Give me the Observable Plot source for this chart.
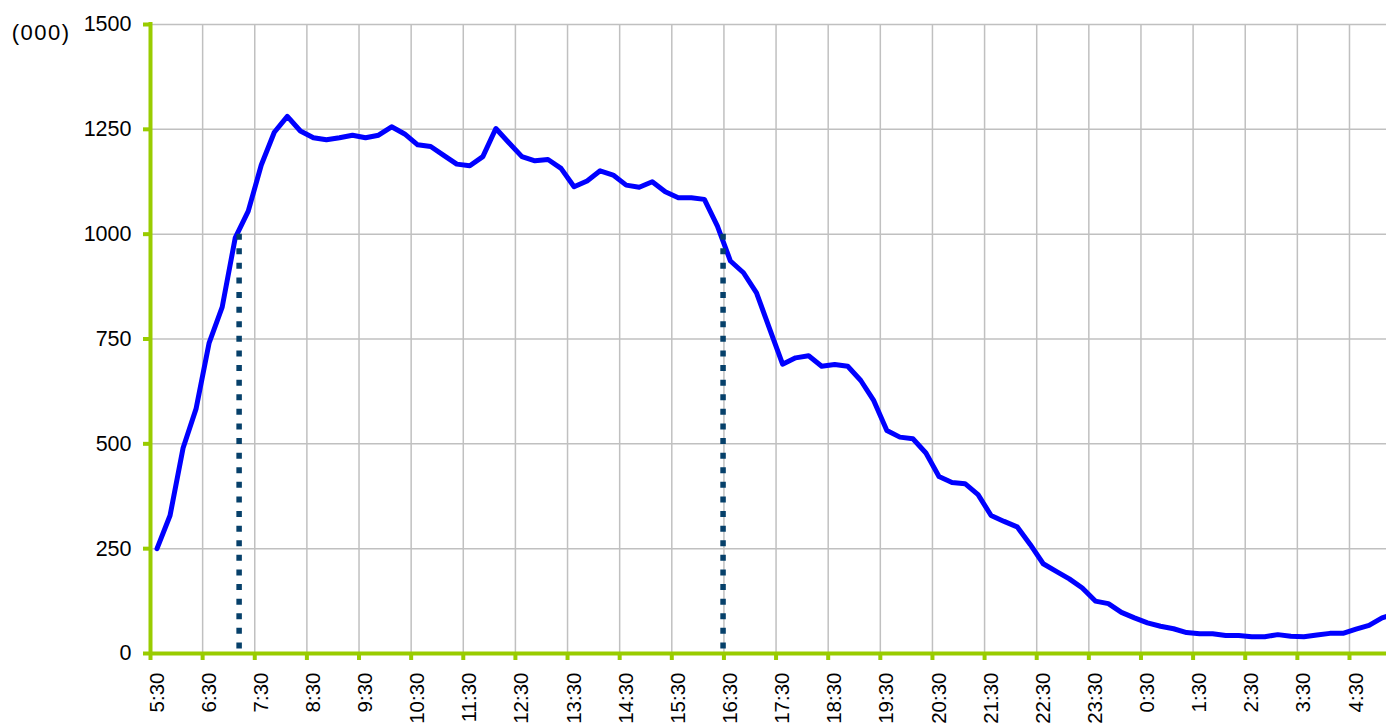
<!DOCTYPE html>
<html>
<head>
<meta charset="utf-8">
<script src="https://cdn.jsdelivr.net/npm/d3@7"></script>
<script src="https://cdn.jsdelivr.net/npm/@observablehq/plot@0.6"></script>
<style>
  html, body { margin: 0; padding: 0; background: #fff; }
  #chart svg { display: block; }
</style>
</head>
<body>
<div id="chart"></div>
<script>
// 15-minute slots (start of each interval), from 5:30 to 5:15 the next day
const slots = [
  "5:30","5:45","6:00","6:15","6:30","6:45","7:00","7:15","7:30","7:45","8:00","8:15",
  "8:30","8:45","9:00","9:15","9:30","9:45","10:00","10:15","10:30","10:45","11:00","11:15",
  "11:30","11:45","12:00","12:15","12:30","12:45","13:00","13:15","13:30","13:45","14:00","14:15",
  "14:30","14:45","15:00","15:15","15:30","15:45","16:00","16:15","16:30","16:45","17:00","17:15",
  "17:30","17:45","18:00","18:15","18:30","18:45","19:00","19:15","19:30","19:45","20:00","20:15",
  "20:30","20:45","21:00","21:15","21:30","21:45","22:00","22:15","22:30","22:45","23:00","23:15",
  "23:30","23:45","0:00","0:15","0:30","0:45","1:00","1:15","1:30","1:45","2:00","2:15",
  "2:30","2:45","3:00","3:15","3:30","3:45","4:00","4:15","4:30","4:45","5:00","5:15"
];

// values in thousands
const values = [
  250, 329, 490, 584, 741, 826, 991, 1055, 1165, 1243, 1281, 1246,
  1230, 1225, 1230, 1236, 1230, 1236, 1256, 1239, 1213, 1209, 1188, 1167,
  1163, 1185, 1252, 1218, 1185, 1175, 1178, 1157, 1113, 1127, 1151, 1141,
  1117, 1112, 1125, 1101, 1087, 1087, 1083, 1019, 936, 908, 860, 775,
  690, 705, 710, 685, 689, 685, 651, 603, 532, 516, 512, 478,
  422, 408, 405, 379, 329, 315, 302, 260, 214, 196, 178, 156,
  125, 119, 98, 85, 73, 65, 59, 50, 47, 47, 43, 43,
  40, 40, 45, 41, 40, 44, 48, 48, 58, 67, 85, 95
];

const xTickLabels = [
  "5:30","6:30","7:30","8:30","9:30","10:30","11:30","12:30","13:30","14:30","15:30","16:30",
  "17:30","18:30","19:30","20:30","21:30","22:30","23:30","0:30","1:30","2:30","3:30","4:30"
];
const yTicks = [0, 250, 500, 750, 1000, 1250, 1500];
const markerTimes = ["7:12", "16:29"];
const markerLevel = 1000;
const yUnitLabel = "(000)";

const dayStart = 330; // 5:30 in minutes
const toMin = s => {
  const [h, m] = s.split(":").map(Number);
  let t = h * 60 + m;
  if (t < dayStart) t += 1440;
  return t;
};

const data = slots.map((s, i) => ({ t: toMin(s) + 7.5, v: values[i] }));
const xTicks = xTickLabels.map(toMin);
const markers = markerTimes.map(toMin);

const green = "#99CC00";
const font = "'Liberation Sans', Arial, Helvetica, sans-serif";

const chart = Plot.plot({
  width: 1386,
  height: 726,
  marginLeft: 150,
  marginRight: 0,
  marginTop: 24,
  marginBottom: 73,
  style: { fontFamily: font, fontSize: "21px", background: "#fff", color: "#000", overflow: "visible" },
  x: { type: "linear", domain: [dayStart, dayStart + 1422.6], axis: null },
  y: { domain: [0, 1500], axis: null },
  marks: [
    Plot.gridX(xTicks.slice(1), { stroke: "#c0c0c0", strokeOpacity: 1, strokeWidth: 1.5 }),
    Plot.gridY(yTicks.slice(1), { stroke: "#c0c0c0", strokeOpacity: 1, strokeWidth: 1.5 }),
    Plot.line(data, { x: "t", y: "v", stroke: "#0000ff", strokeWidth: 5, clip: true }),
    Plot.ruleX(markers, {
      x: d => d, y1: () => markerLevel, y2: () => 0,
      stroke: "#06406a", strokeWidth: 5.5, strokeDasharray: "6,8.6"
    }),
    Plot.axisX(xTicks, { tickSize: 7, stroke: green, strokeWidth: 4, fill: "none", label: null }),
    Plot.axisY(yTicks, { tickSize: 7, stroke: green, strokeWidth: 4, fill: "none", label: null }),
    Plot.ruleY([0], { stroke: green, strokeWidth: 4 }),
    Plot.ruleX([dayStart], { stroke: green, strokeWidth: 4, strokeLinecap: "square" }),
    Plot.text(xTickLabels, {
      x: (d, i) => xTicks[i], text: d => d, frameAnchor: "bottom",
      rotate: -90, textAnchor: "end", lineAnchor: "middle",
      dx: 6.5, dy: 19, fontSize: 20.5, fill: "#000"
    }),
    Plot.text(yTicks, {
      y: d => d, text: d => String(d), frameAnchor: "left",
      textAnchor: "end", dx: -19, fontSize: 21.5, fill: "#000"
    }),
    Plot.text([yUnitLabel], {
      frameAnchor: "top-left", text: d => d, textAnchor: "end",
      dx: -80, fontSize: 22, fill: "#000"
    })
  ]
});

// slightly wider tracking for the unit label, as in the original
d3.select(chart).selectAll("text")
  .filter(function () { return this.textContent === yUnitLabel; })
  .attr("letter-spacing", "1.5px");

document.getElementById("chart").appendChild(chart);
</script>
</body>
</html>
